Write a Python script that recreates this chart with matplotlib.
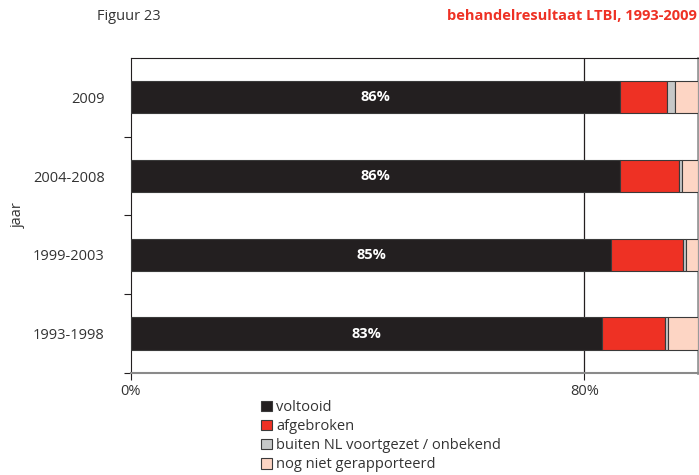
import numpy as np
import matplotlib
matplotlib.use("Agg")
import matplotlib.pyplot as plt
from matplotlib.patches import Patch

plt.rcParams['font.family'] = ['Open Sans', 'DejaVu Sans']

# periods, bottom to top
periods = ["1993-1998", "1999-2003", "2004-2008", "2009"]

# share of treatments per outcome (%)
voltooid = [83.2, 84.8, 86.4, 86.3]
afgebroken = [11.0, 12.6, 10.3, 8.3]
buiten_nl = [0.5, 0.5, 0.6, 1.4]
niet_gerapporteerd = [5.3, 2.1, 2.7, 4.0]
voltooid_labels = ["83%", "85%", "86%", "86%"]

series = [
    ("voltooid", voltooid, "#231f20"),
    ("afgebroken", afgebroken, "#ee3124"),
    ("buiten NL voortgezet / onbekend", buiten_nl, "#c6c8c8"),
    ("nog niet gerapporteerd", niet_gerapporteerd, "#fdd5c4"),
]

fig = plt.figure(figsize=(6.99, 4.75), dpi=100)
ax = fig.add_axes([0.1874, 0.2147, 0.8105, 0.6633])

y = np.arange(len(periods))
left = np.zeros(len(periods))
for name, vals, col in series:
    ax.barh(y, vals, left=left, height=0.41, color=col, edgecolor="#3a3a3a",
            linewidth=0.8, label=name, zorder=3)
    left += np.array(vals)

for yi, v, lab in zip(y, voltooid, voltooid_labels):
    ax.text(v / 2, yi, lab, color="white", fontweight="bold", fontsize=10.5,
            ha="center", va="center", zorder=4)

ax.set_xlim(0, 100)
ax.set_ylim(-0.5, 3.5)
ax.set_xticks([0, 80])
ax.set_xticklabels(["0%", "80%"], fontsize=10.5, color="#333333")
ax.axvline(80, color="#231f20", linewidth=0.9, zorder=2)

ax.set_yticks(y)
ax.set_yticklabels(periods, fontsize=10.5, color="#333333")
ax.tick_params(axis="y", which="major", length=0, pad=19)
ax.set_yticks(np.arange(-0.5, 3.0, 1.0), minor=True)
ax.tick_params(axis="y", which="minor", length=5, width=0.8, color="#231f20")
ax.tick_params(axis="x", length=5, width=0.8, color="#231f20", pad=3)

ax.spines["left"].set_color("#231f20")
ax.spines["top"].set_color("#231f20")
ax.spines["bottom"].set_color("#8a8a8a")
ax.spines["bottom"].set_linewidth(1.5)
ax.spines["right"].set_color("#9a9a9a")
ax.spines["right"].set_linewidth(2)

ax.set_ylabel("jaar", fontsize=10.5, color="#333333")
ax.yaxis.set_label_coords(-0.186, 0.5)

fig.text(97 / 699, 1 - 16 / 475, "Figuur 23", fontsize=10.5, color="#333333",
         ha="left", va="center")
fig.text(697 / 699, 1 - 16 / 475, "behandelresultaat LTBI, 1993-2009",
         fontsize=10.5, color="#ee3124", fontweight="bold", ha="right", va="center")

handles = [Patch(facecolor=c, edgecolor="#3a3a3a", linewidth=0.8, label=n)
           for n, _, c in series]
fig.legend(handles=handles, loc="upper left", bbox_to_anchor=(261 / 699, 1 - 400 / 475),
           frameon=False, fontsize=10.5, handlelength=0.75, handleheight=0.75,
           handletextpad=0.3, labelspacing=0.28, borderaxespad=0, borderpad=0,
           labelcolor="#333333")

fig.savefig("out.png", dpi=100)
